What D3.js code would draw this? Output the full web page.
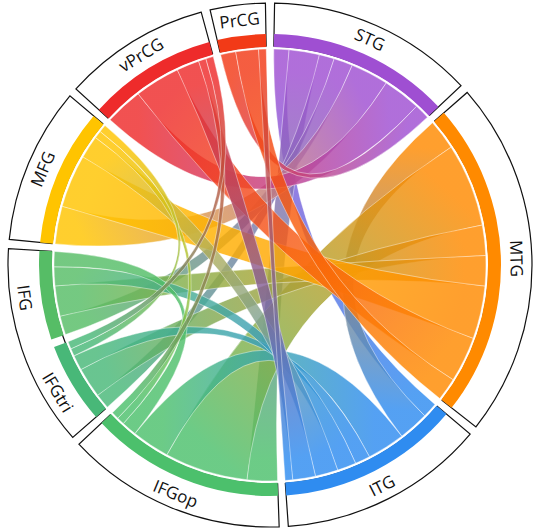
<!DOCTYPE html>
<html>
<head>
<meta charset="utf-8">
<script src="https://cdn.jsdelivr.net/npm/d3@7.9.0/dist/d3.min.js"></script>
<style>
  body { margin: 0; background: #fff; }
  svg { display: block; }
</style>
</head>
<body>
<svg id="chart" width="540" height="530"></svg>
<script>
// ========== Data ==========
const regions = ['STG', 'MTG', 'ITG', 'IFGop', 'IFGtri', 'IFG', 'MFG', 'vPrCG', 'PrCG'];
const regionColors = ['#9f4fd2', '#ff8a00', '#2f8cf0', '#4cc06c', '#48b878', '#56bd66', '#ffc400', '#ee2b2b', '#f23a17'];
// label boxes: index ranges of regions sharing one outlined box
const boxes = [[0, 0], [1, 1], [2, 2], [3, 3], [4, 5], [6, 6], [7, 7], [8, 8]];

// symmetric connection matrix (order as regions)
const matrix = [
  // STG MTG ITG IFGop IFGtri IFG MFG vPrCG PrCG
  [0,  0,  4,  8,  4,  5, 10, 10,  4],
  [0,  0,  8, 22,  8,  8, 14, 12,  6],
  [4,  8,  0, 10,  4,  5,  6,  6,  2],
  [8, 22, 10,  0,  0,  4,  2,  2,  0],
  [4,  8,  4,  0,  0,  0,  2,  2,  0],
  [5,  8,  5,  4,  0,  0,  0,  0,  0],
  [10, 14, 6,  2,  2,  0,  0,  0,  0],
  [10, 12, 6,  2,  2,  0,  0,  0,  0],
  [4,  6,  2,  0,  0,  0,  0,  0,  0]
];

// ========== Layout ==========
const cx = 270, cy = 265;
const rRibbon = 216, rIn = 218, rOut = 231, rBox = 262;
const pad = 0.035;
const rot = pad / 2;

const svg = d3.select('#chart');
const defs = svg.append('defs');
const g = svg.append('g').attr('transform', `translate(${cx},${cy}) rotate(${rot * 180 / Math.PI})`);

const chords = d3.chord().padAngle(pad).sortSubgroups(null)(matrix);
const groups = chords.groups;
const mid = (d) => (d.startAngle + d.endAngle) / 2;

// === Label boxes ===
const boxArc = d3.arc().innerRadius(rIn + 1).outerRadius(rBox);
boxes.forEach(([a, b]) => {
  g.append('path')
    .attr('d', boxArc({ startAngle: groups[a].startAngle, endAngle: groups[b].endAngle }))
    .attr('fill', '#fff')
    .attr('stroke', '#111')
    .attr('stroke-width', 1.2);
});

// === Ribbons with gradients (gradient coords are in the group's local space) ===
const ribbon = d3.ribbon().radius(rRibbon);
chords.forEach((c, i) => {
  const a0 = mid(c.source), a1 = mid(c.target);
  const lg = defs.append('linearGradient')
    .attr('id', 'grad' + i)
    .attr('gradientUnits', 'userSpaceOnUse')
    .attr('x1', rRibbon * Math.sin(a0)).attr('y1', -rRibbon * Math.cos(a0))
    .attr('x2', rRibbon * Math.sin(a1)).attr('y2', -rRibbon * Math.cos(a1));
  lg.append('stop').attr('offset', '5%').attr('stop-color', regionColors[c.source.index]);
  lg.append('stop').attr('offset', '95%').attr('stop-color', regionColors[c.target.index]);

  g.append('path')
    .attr('d', ribbon(c))
    .attr('fill', `url(#grad${i})`)
    .attr('fill-opacity', 0.82)
    .attr('stroke', '#fff')
    .attr('stroke-opacity', 0.6)
    .attr('stroke-width', 0.7);
});

// === Group ring ===
const ringArc = d3.arc().innerRadius(rIn).outerRadius(rOut);
g.selectAll('path.ring')
  .data(groups)
  .join('path')
  .attr('class', 'ring')
  .attr('d', ringArc)
  .attr('fill', (d) => regionColors[d.index]);

// === Labels ===
const rLabel = 247;
const gl = svg.append('g').attr('transform', `translate(${cx},${cy})`);
groups.forEach((d) => {
  const a = mid(d) + rot;
  const deg = a * 180 / Math.PI;
  const x = rLabel * Math.sin(a), y = -rLabel * Math.cos(a);
  const r = (deg > 90 && deg < 270) ? deg - 180 : deg;
  gl.append('text')
    .attr('transform', `translate(${x},${y}) rotate(${r})`)
    .attr('text-anchor', 'middle')
    .attr('dominant-baseline', 'central')
    .attr('font-family', 'Open Sans, Noto Sans, sans-serif')
    .attr('font-size', 17)
    .attr('fill', '#111')
    .text(regions[d.index]);
});
</script>
</body>
</html>
